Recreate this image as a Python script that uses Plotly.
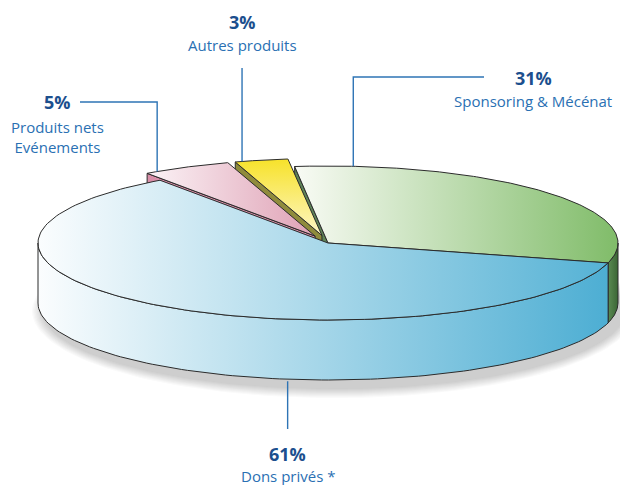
import numpy as np
import plotly.graph_objects as go

# ---------------- data ----------------
categories = ["Sponsoring & Mécénat", "Autres produits", "Produits nets<br>Evénements", "Dons privés *"]
shares = [31, 3, 5, 61]
share_labels = ["31%", "3%", "5%", "61%"]

# ---------------- style / layout ----------------
W, H = 620, 485
CX, CY, RX, RY, DEPTH = 328, 243, 290, 77, 60
START_DEG = -15
EXPLODE = [0.0, 0.1, 0.1, 0.0]
TOP_GRAD = [
    ("horizontal", ["#f9fbf5", "#80bc69"]),
    ("vertical", ["#f7e22a", "#fdf6c6"]),
    ("horizontal", ["#fbf3f6", "#dfa1b5"]),
    ("horizontal", ["#fbfdfe", "#55b2d5"]),
]
SIDE_GRAD = [
    ("horizontal", ["#5a8a52", "#3b6635"]),
    ("horizontal", ["#8f8b3c", "#8f8b3c"]),
    ("horizontal", ["#d98fa9", "#d98fa9"]),
    ("horizontal", ["#fbfdfe", "#4daed3"]),
]
RADIAL_COLOR = ["#5f8458", "#8f8b3c", "#d98fa9", "#9cc9de"]
EDGE = dict(color="#2b2b2b", width=1)
ANCHOR_DEG = [85, 106, 123, 262]
ANCHOR_BOTTOM = [False, False, False, True]
PCT_COLOR, NAME_COLOR, LEAD_COLOR = "#1c4f8e", "#2a70b3", "#2e74b5"
FONT = "Open Sans"

total = float(sum(shares))
bounds = START_DEG + 360.0 * np.concatenate([[0], np.cumsum(shares)]) / total


def offset(i):
    m = np.radians((bounds[i] + bounds[i + 1]) / 2)
    return EXPLODE[i] * np.cos(m), EXPLODE[i] * np.sin(m)


def to_px(X, Y, z):
    return CX + RX * np.asarray(X), CY - RY * np.asarray(Y) + DEPTH * np.asarray(z)


fig = go.Figure()


def add_poly(xs, ys, kind, colors):
    xs = np.asarray(xs, float)
    ys = np.asarray(ys, float)
    if kind == "horizontal":
        start, stop = xs.min(), xs.max()
    else:
        start, stop = ys.min(), ys.max()
    fig.add_trace(go.Scatter(
        x=np.append(xs, xs[0]), y=np.append(ys, ys[0]), mode="lines", fill="toself",
        fillgradient=dict(type=kind, colorscale=[[0, colors[0]], [1, colors[1]]],
                          start=start, stop=stop),
        line=EDGE, hoverinfo="skip", showlegend=False))


# ---- soft shadow ----
tt = np.linspace(0, 2 * np.pi, 200)
for k in range(10, 0, -1):
    sx = CX + 6 + (RX + k * 1.2) * np.cos(tt)
    sy = CY + DEPTH + 8 + (RY + k * 1.0) * np.sin(tt)
    fig.add_trace(go.Scatter(x=sx, y=sy, mode="lines", fill="toself",
                             fillcolor="rgba(60,60,60,0.025)", line=dict(width=0),
                             hoverinfo="skip", showlegend=False))

# ---- side faces ----
radial_core, radial_expl, arcs = [], [], []
for i in range(len(shares)):
    t0, t1 = bounds[i], bounds[i + 1]
    ox, oy = offset(i)
    for t, nd in ((t0, t0 - 90), (t1, t1 + 90)):
        if np.sin(np.radians(nd)) < 0:
            c, s = np.cos(np.radians(t)), np.sin(np.radians(t))
            X = [ox, ox + c, ox + c, ox]
            Y = [oy, oy + s, oy + s, oy]
            Z = [0, 0, 1, 1]
            px, py = to_px(X, Y, Z)
            item = (oy + s / 2, px, py, i)
            (radial_expl if EXPLODE[i] > 0 else radial_core).append(item)
    for k in (-1, 0, 1):
        a, b = max(t0, 180 + 360 * k), min(t1, 360 + 360 * k)
        if b > a:
            ang = np.radians(np.linspace(a, b, 120))
            X = np.concatenate([ox + np.cos(ang), ox + np.cos(ang[::-1])])
            Y = np.concatenate([oy + np.sin(ang), oy + np.sin(ang[::-1])])
            Z = np.concatenate([np.zeros(120), np.ones(120)])
            px, py = to_px(X, Y, Z)
            arcs.append((np.mean(oy + np.sin(ang)), px, py, i))

for _, px, py, i in radial_core:
    add_poly(px, py, "horizontal", [RADIAL_COLOR[i], RADIAL_COLOR[i]])
for _, px, py, i in sorted(radial_expl, key=lambda r: -r[0]):
    add_poly(px, py, "horizontal", [RADIAL_COLOR[i], RADIAL_COLOR[i]])
for _, px, py, i in sorted(arcs, key=lambda r: -r[0]):
    add_poly(px, py, SIDE_GRAD[i][0], SIDE_GRAD[i][1])

# ---- top faces ----
for i in range(len(shares)):
    t0, t1 = bounds[i], bounds[i + 1]
    ox, oy = offset(i)
    ang = np.radians(np.linspace(t0, t1, 150))
    X = np.concatenate([[ox], ox + np.cos(ang)])
    Y = np.concatenate([[oy], oy + np.sin(ang)])
    px, py = to_px(X, Y, np.zeros(len(X)))
    add_poly(px, py, TOP_GRAD[i][0], TOP_GRAD[i][1])

# ---- labels & leader lines ----
annotations = []


def lead(xs, ys):
    fig.add_trace(go.Scatter(x=xs, y=ys, mode="lines", line=dict(color=LEAD_COLOR, width=1.4),
                             hoverinfo="skip", showlegend=False))


def label(x, y, pct, name, name_dy):
    annotations.append(dict(x=x, y=y, text="<b>" + pct + "</b>", showarrow=False, xref="x", yref="y",
                            font=dict(family=FONT, size=18, color=PCT_COLOR)))
    annotations.append(dict(x=x, y=y + name_dy, text=name, showarrow=False, xref="x", yref="y",
                            yanchor="top", font=dict(family=FONT, size=15, color=NAME_COLOR)))


anchors = []
for i in range(len(shares)):
    ox, oy = offset(i)
    t = np.radians(ANCHOR_DEG[i])
    ax, ay = to_px(ox + np.cos(t), oy + np.sin(t), 1 if ANCHOR_BOTTOM[i] else 0)
    anchors.append((float(ax), float(ay)))

ax, ay = anchors[0]
lead([484, ax, ax], [77, 77, ay])
label(533, 78, share_labels[0], categories[0], 11)
ax, ay = anchors[1]
lead([ax, ax], [68, ay])
label(ax, 22, share_labels[1], categories[1], 11)
ax, ay = anchors[2]
lead([80, ax, ax], [102, 102, ay])
label(57, 102, share_labels[2], categories[2], 13)
ax, ay = anchors[3]
lead([ax, ax], [ay + 2, 429])
label(ax, 454, share_labels[3], categories[3], 10)

fig.update_layout(
    width=W, height=H, margin=dict(l=0, r=0, t=0, b=0),
    paper_bgcolor="white", plot_bgcolor="white", showlegend=False,
    xaxis=dict(range=[0, W], visible=False, fixedrange=True),
    yaxis=dict(range=[H, 0], visible=False, fixedrange=True),
    annotations=annotations,
)
fig.write_html(
    "out.html",
    config={"displayModeBar": False},
    post_script="document.body.style.margin='0';document.body.style.overflow='hidden';",
)
